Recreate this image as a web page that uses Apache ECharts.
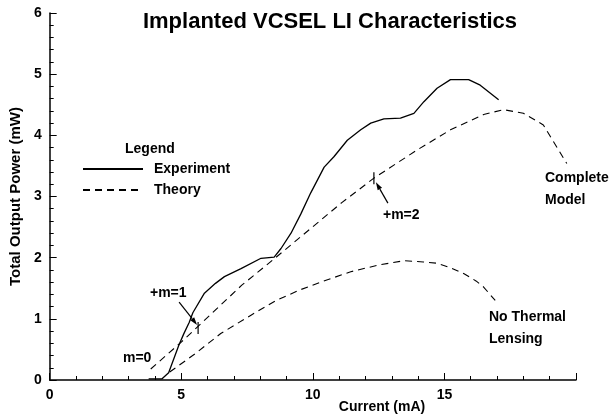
<!DOCTYPE html>
<html>
<head>
<meta charset="utf-8">
<script src="https://cdn.jsdelivr.net/npm/echarts@6/dist/echarts.min.js"></script>
<style>
    html, body { margin: 0; padding: 0; background: #fff; }
    #chart { width: 613px; height: 417px; }
</style>
</head>
<body>
<div id="chart"></div>
<script>
    // measured L-I curve (current in mA, power in mW)
    var expCurrent = [3.76, 4.27, 4.52, 4.71, 4.9, 5.09, 5.3, 5.44, 5.88, 6.3, 6.64, 7.27, 8.03, 8.53, 8.79, 9.17, 9.55, 9.92, 10.43, 10.8, 11.31, 11.82, 12.2, 12.7, 13.33, 13.84, 14.22, 14.72, 15.23, 15.92, 16.36, 17.06];
    var expPower = [0.02, 0.02, 0.12, 0.34, 0.56, 0.75, 0.94, 1.1, 1.42, 1.58, 1.69, 1.82, 1.99, 2.01, 2.15, 2.4, 2.72, 3.06, 3.48, 3.65, 3.92, 4.09, 4.2, 4.27, 4.28, 4.36, 4.55, 4.77, 4.91, 4.91, 4.82, 4.58];

    // theory, complete model
    var fullCurrent = [3.84, 5.0, 6.14, 7.3, 8.5, 9.9, 11.1, 12.32, 13.96, 15.23, 16.49, 17.25, 18.0, 18.76, 19.65];
    var fullPower = [0.18, 0.62, 1.08, 1.55, 1.97, 2.47, 2.9, 3.3, 3.76, 4.09, 4.34, 4.42, 4.36, 4.17, 3.54];

    // theory, no thermal lensing
    var noLensCurrent = [4.56, 5.5, 6.5, 7.65, 8.6, 9.55, 10.5, 11.44, 12.5, 13.46, 14.2, 14.72, 15.2, 15.73, 16.2, 16.49, 16.93];
    var noLensPower = [0.13, 0.42, 0.76, 1.06, 1.3, 1.48, 1.63, 1.77, 1.88, 1.95, 1.93, 1.91, 1.84, 1.74, 1.62, 1.52, 1.3];

    // transverse mode onsets on the complete model
    var modeNames = ['m=0', '+m=1', '+m=2'];
    var modeCurrent = [3.84, 5.64, 12.32];
    var modePower = [0.18, 0.85, 3.3];

    var xTicks = [0, 5, 10, 15];
    var yTicks = [0, 1, 2, 3, 4, 5, 6];

    function pairs(xs, ys) {
        var out = [];
        for (var i = 0; i < xs.length; i++) {
            out.push([xs[i], ys[i]]);
        }
        return out;
    }

    var font = 'Liberation Sans, Arial, Helvetica, sans-serif';
    var chart = echarts.init(document.getElementById('chart'));

    var option = {
        animation: false,
        backgroundColor: '#fff',
        title: {
            text: 'Implanted VCSEL LI Characteristics',
            left: 325,
            top: 6,
            textAlign: 'center',
            textStyle: { fontFamily: font, fontWeight: 'bold', fontSize: 22, color: '#000' }
        },
        grid: { left: 48, right: 37, top: 13, bottom: 37 },
        legend: {
            data: ['Experiment', 'Theory'],
            orient: 'vertical',
            left: 82,
            top: 162,
            padding: 0,
            itemWidth: 60,
            itemHeight: 14,
            itemGap: 7,
            itemStyle: { opacity: 0 },
            textStyle: { fontFamily: font, fontWeight: 'bold', fontSize: 14, color: '#000', padding: [0, 0, 0, 6] }
        },
        xAxis: {
            type: 'value',
            min: 0,
            max: 20,
            interval: 5,
            axisLine: { onZero: false, lineStyle: { color: '#000', width: 1.5 } },
            axisTick: { inside: true, length: 7, lineStyle: { color: '#000' } },
            minorTick: { show: true, splitNumber: 5, length: 4, lineStyle: { color: '#000' } },
            splitLine: { show: false },
            axisLabel: {
                margin: 8,
                fontFamily: font, fontWeight: 'bold', fontSize: 14, color: '#000',
                formatter: function (v) { return xTicks.indexOf(v) >= 0 ? String(v) : ''; }
            }
        },
        yAxis: {
            type: 'value',
            min: 0,
            max: 6,
            interval: 1,
            name: 'Total Output Power (mW)',
            nameLocation: 'middle',
            nameRotate: 90,
            nameGap: 26,
            nameTextStyle: { fontFamily: font, fontWeight: 'bold', fontSize: 15, color: '#000' },
            axisLine: { lineStyle: { color: '#000', width: 1.5 } },
            axisTick: { inside: true, length: 7, lineStyle: { color: '#000' } },
            minorTick: { show: true, splitNumber: 5, length: 4, lineStyle: { color: '#000' } },
            splitLine: { show: false },
            axisLabel: {
                margin: 8,
                fontFamily: font, fontWeight: 'bold', fontSize: 14, color: '#000',
                formatter: function (v) { return yTicks.indexOf(v) >= 0 ? String(v) : ''; }
            }
        },
        series: [
            {
                name: 'Experiment',
                type: 'line',
                symbol: 'none',
                clip: false,
                lineStyle: { color: '#000', width: 1.3 },
                itemStyle: { color: '#000' },
                data: pairs(expCurrent, expPower)
            },
            {
                name: 'Theory',
                type: 'line',
                symbol: 'none',
                clip: false,
                lineStyle: { color: '#000', width: 1.1, type: [7, 5] },
                itemStyle: { color: '#000' },
                data: pairs(fullCurrent, fullPower)
            },
            {
                name: 'Theory',
                type: 'line',
                symbol: 'none',
                clip: false,
                lineStyle: { color: '#000', width: 1.1, type: [7, 5] },
                itemStyle: { color: '#000' },
                data: pairs(noLensCurrent, noLensPower)
            }
        ]
    };

    chart.setOption(option);

    // text labels and the mode arrows
    function label(text, x, y) {
        return {
            type: 'text', x: x, y: y,
            style: { text: text, fontFamily: font, fontWeight: 'bold', fontSize: 14, fill: '#000', verticalAlign: 'middle' }
        };
    }

    function arrow(from, to) {
        var dx = to[0] - from[0], dy = to[1] - from[1];
        var len = Math.sqrt(dx * dx + dy * dy);
        var ux = dx / len, uy = dy / len;
        var bx = to[0] - ux * 8, by = to[1] - uy * 8;
        return [
            { type: 'line', shape: { x1: from[0], y1: from[1], x2: bx, y2: by }, style: { stroke: '#000', lineWidth: 1.2 } },
            { type: 'polygon', shape: { points: [to, [bx - uy * 2.5, by + ux * 2.5], [bx + uy * 2.5, by - ux * 2.5]] }, style: { fill: '#000' } }
        ];
    }

    var graphics = [
        label('Legend', 125, 149),
        label(modeNames[0], 123, 358),
        label(modeNames[1], 150, 293),
        label(modeNames[2], 383, 215),
        label('Complete', 545, 178),
        label('Model', 545, 200),
        label('No Thermal', 489, 317),
        label('Lensing', 489, 339),
        { type: 'text', x: 382, y: 407, style: { text: 'Current (mA)', fontFamily: font, fontWeight: 'bold', fontSize: 14, fill: '#000', align: 'center', verticalAlign: 'middle' } }
    ];

    var m1 = chart.convertToPixel({ gridIndex: 0 }, [modeCurrent[1], modePower[1]]);
    var m2 = chart.convertToPixel({ gridIndex: 0 }, [modeCurrent[2], modePower[2]]);
    [m1, m2].forEach(function (p) {
        graphics.push({ type: 'line', shape: { x1: p[0], y1: p[1] - 6, x2: p[0], y2: p[1] + 6 }, style: { stroke: '#000', lineWidth: 1.2 } });
    });
    graphics = graphics.concat(arrow([m1[0] - 19, m1[1] - 26], [m1[0] - 1, m1[1] - 3]));
    graphics = graphics.concat(arrow([m2[0] + 14, m2[1] + 25], [m2[0] + 2, m2[1] + 4]));

    chart.setOption({ graphic: graphics });
</script>
</body>
</html>
